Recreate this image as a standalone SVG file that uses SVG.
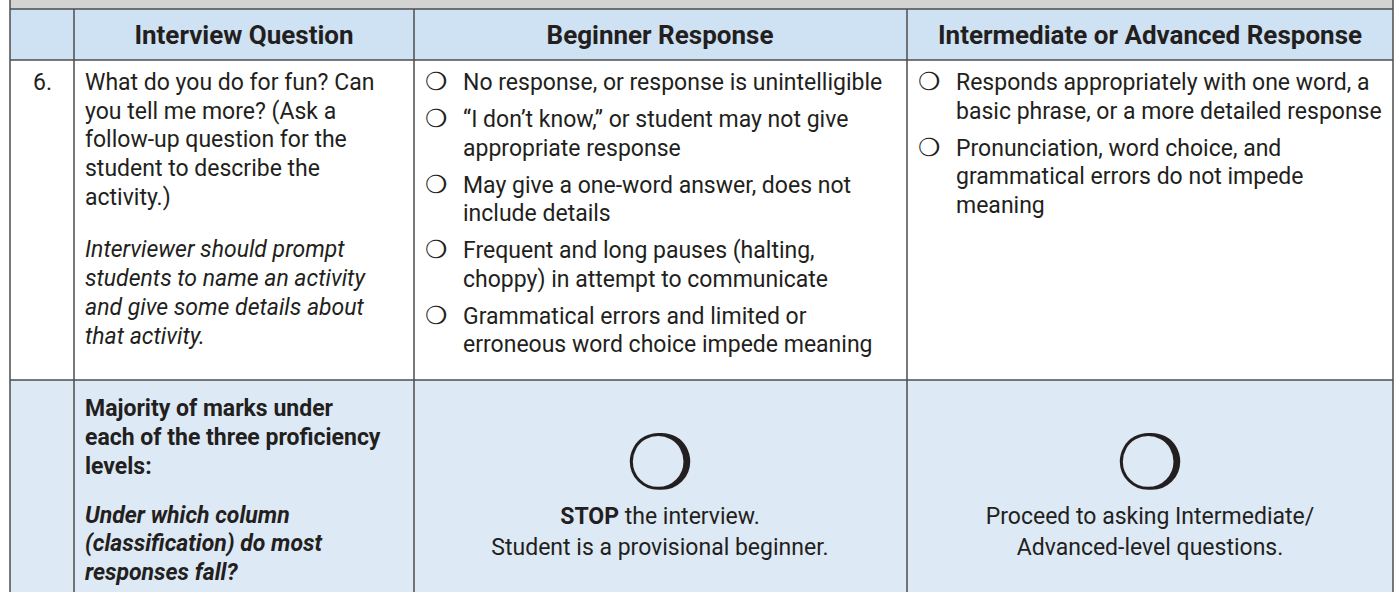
<svg xmlns="http://www.w3.org/2000/svg" width="1395" height="592" viewBox="0 0 1395 592">
<style>
.t{font-family:Roboto,"Liberation Sans",sans-serif;font-size:23px;fill:#231f20}
.h{font-family:Roboto,"Liberation Sans",sans-serif;font-size:26px;font-weight:700;fill:#231f20;text-anchor:middle}
.i{font-style:italic}
.b{font-weight:700}
.c{text-anchor:middle}
.bul{font-family:"DejaVu Sans",sans-serif;font-size:25px;fill:#231f20}
.big{font-family:"DejaVu Sans",sans-serif;font-size:76px;fill:#231f20;text-anchor:middle}
.ln{stroke:#4d4d4d;stroke-width:1.5;fill:none}
</style>
<rect x="0" y="0" width="1395" height="592" fill="#ffffff"/>
<rect x="10" y="0" width="1383" height="9" fill="#d3d3d3"/>
<rect x="10" y="9" width="1383" height="51" fill="#cfe2f3"/>
<rect x="10" y="380" width="1383" height="212" fill="#dde9f5"/>
<g id="connectors">
<path class="ln" d="M10 9H1393M10 60H1393M10 380H1393M10 0V592M74 9V592M414 9V592M907 9V592M1393 0V592"/>
</g>
<g id="header">
<text class="h" x="244" y="44">Interview Question</text>
<text class="h" x="660" y="44">Beginner Response</text>
<text class="h" x="1150" y="44">Intermediate or Advanced Response</text>
</g>
<g id="num">
<text class="t" x="33" y="90">6.</text>
</g>
<g id="question">
<text class="t" x="85" y="90">What do you do for fun? Can</text>
<text class="t" x="85" y="118.7">you tell me more? (Ask a</text>
<text class="t" x="85" y="147.4">follow-up question for the</text>
<text class="t" x="85" y="176">student to describe the</text>
<text class="t" x="85" y="204.8">activity.)</text>
<text class="t i" x="85" y="257">Interviewer should prompt</text>
<text class="t i" x="85" y="286">students to name an activity</text>
<text class="t i" x="85" y="315">and give some details about</text>
<text class="t i" x="85" y="344">that activity.</text>
</g>
<g id="beginner">
<text class="bul" x="425" y="90">❍</text>
<text class="t" x="463" y="90">No response, or response is unintelligible</text>
<text class="bul" x="425" y="127">❍</text>
<text class="t" x="463" y="127">“I don’t know,” or student may not give</text>
<text class="t" x="463" y="155.7">appropriate response</text>
<text class="bul" x="425" y="192.5">❍</text>
<text class="t" x="463" y="192.5">May give a one-word answer, does not</text>
<text class="t" x="463" y="221">include details</text>
<text class="bul" x="425" y="258">❍</text>
<text class="t" x="463" y="258">Frequent and long pauses (halting,</text>
<text class="t" x="463" y="286.5">choppy) in attempt to communicate</text>
<text class="bul" x="425" y="323.5">❍</text>
<text class="t" x="463" y="323.5">Grammatical errors and limited or</text>
<text class="t" x="463" y="352">erroneous word choice impede meaning</text>
</g>
<g id="advanced">
<text class="bul" x="918" y="90">❍</text>
<text class="t" x="956" y="90">Responds appropriately with one word, a</text>
<text class="t" x="956" y="118.7">basic phrase, or a more detailed response</text>
<text class="bul" x="918" y="155.5">❍</text>
<text class="t" x="956" y="155.5">Pronunciation, word choice, and</text>
<text class="t" x="956" y="184">grammatical errors do not impede</text>
<text class="t" x="956" y="212.7">meaning</text>
</g>
<g id="summary">
<text class="t b" x="85" y="416">Majority of marks under</text>
<text class="t b" x="85" y="445">each of the three proficiency</text>
<text class="t b" x="85" y="473.7">levels:</text>
<text class="t b i" x="85" y="522.6">Under which column</text>
<text class="t b i" x="85" y="551.3">(classification) do most</text>
<text class="t b i" x="85" y="580">responses fall?</text>
</g>
<g id="stop">
<text class="big" x="660" y="489">❍</text>
<text class="t c" x="660" y="524"><tspan class="b">STOP</tspan> the interview.</text>
<text class="t c" x="660" y="555">Student is a provisional beginner.</text>
</g>
<g id="proceed">
<text class="big" x="1150" y="489">❍</text>
<text class="t c" x="1150" y="524">Proceed to asking Intermediate/</text>
<text class="t c" x="1150" y="555">Advanced-level questions.</text>
</g>
</svg>
